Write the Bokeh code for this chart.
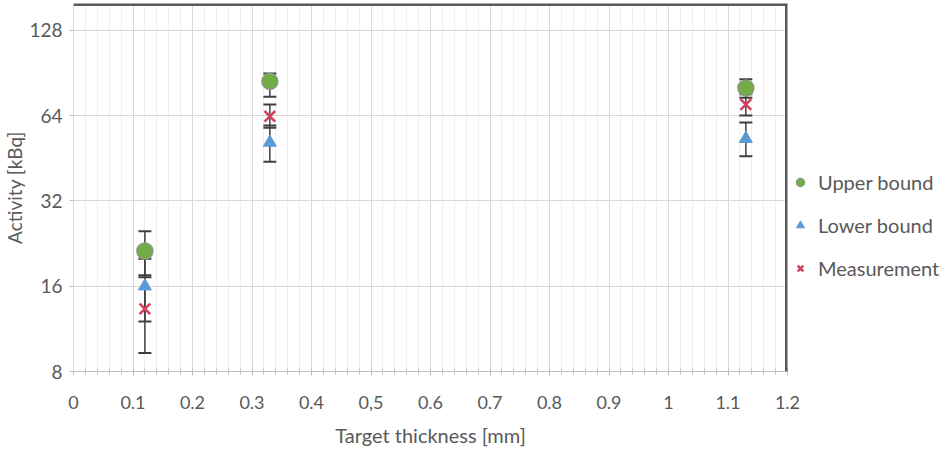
import numpy as np
from bokeh.plotting import figure
from bokeh.models import (ColumnDataSource, Whisker, TeeHead, FixedTicker, Span,
                          Legend, LegendItem, Range1d, NumeralTickFormatter)
from bokeh.embed import file_html
from bokeh.resources import INLINE

# ---- data ----
x_thickness = [0.12, 0.33, 1.13]

upper_bound = [21.3, 84.5, 80.0]
upper_err_lo = [17.5, 74.5, 74.0]
upper_err_hi = [25.0, 90.0, 86.0]

lower_bound = [16.0, 51.4, 53.0]
lower_err_lo = [12.0, 44.0, 46.0]
lower_err_hi = [20.0, 59.0, 60.5]

measurement = [13.3, 63.6, 70.0]
meas_err_lo = [9.3, 58.0, 64.0]
meas_err_hi = [17.2, 70.0, 76.0]

x_ticks = [0, 0.1, 0.2, 0.3, 0.4, 0.5, 0.6, 0.7, 0.8, 0.9, 1.0, 1.1, 1.2]
x_tick_labels = ["0", "0.1", "0.2", "0.3", "0.4", "0,5", "0.6", "0.7", "0.8", "0.9", "1", "1.1", "1.2"]
y_ticks = [8, 16, 32, 64, 128]
x_max = 1.2
y_min, y_max = 8, 159

FONT = "Lato"
TXT = "#595959"

p = figure(frame_width=714, frame_height=368, y_axis_type="log",
           x_range=Range1d(0, x_max), y_range=Range1d(y_min, y_max),
           output_backend="svg", toolbar_location=None,
           min_border_left=60, min_border_right=10, min_border_top=3, min_border_bottom=60,
           outline_line_color=None, background_fill_color="white")

# grids
x_minor = [round(v, 2) for v in np.arange(0, 1.2001, 0.02)]
p.xgrid.ticker = FixedTicker(ticks=x_ticks, minor_ticks=x_minor)
p.xgrid.grid_line_color = "#D9D9D9"
p.xgrid.minor_grid_line_color = "#EFEFEF"
p.ygrid.ticker = FixedTicker(ticks=y_ticks)
p.ygrid.grid_line_color = "#D9D9D9"

# x axis
xa = p.xaxis[0]
xa.ticker = FixedTicker(ticks=x_ticks, minor_ticks=x_minor)
xa.major_label_overrides = {t: l for t, l in zip(x_ticks, x_tick_labels)}
xa.axis_line_color = "#BFBFBF"
xa.major_tick_line_color = "#BFBFBF"
xa.minor_tick_line_color = "#BFBFBF"
xa.major_tick_in = 4
xa.major_tick_out = 4
xa.minor_tick_in = 3
xa.minor_tick_out = 3
xa.major_label_standoff = 20
xa.major_label_text_font = FONT
xa.major_label_text_font_size = "18px"
xa.major_label_text_color = TXT
xa.axis_label = "Target thickness [mm]"
xa.axis_label_text_font = FONT
xa.axis_label_text_font_size = "20px"
xa.axis_label_text_font_style = "normal"
xa.axis_label_text_color = TXT
xa.axis_label_standoff = 11

# y axis
ya = p.yaxis[0]
ya.ticker = FixedTicker(ticks=y_ticks)
ya.formatter = NumeralTickFormatter(format="0")
ya.axis_line_color = "#D9D9D9"
ya.major_tick_line_color = "#BFBFBF"
ya.minor_tick_line_color = None
ya.major_tick_in = 0
ya.major_tick_out = 4
ya.major_label_standoff = 7
ya.major_label_text_font = FONT
ya.major_label_text_font_size = "19px"
ya.major_label_text_color = TXT
ya.axis_label = "Activity [kBq]"
ya.axis_label_text_font = FONT
ya.axis_label_text_font_size = "19px"
ya.axis_label_text_font_style = "normal"
ya.axis_label_text_color = TXT
ya.axis_label_standoff = 0

# dark top and right borders of the plot area
p.add_layout(Span(location=y_max, dimension="width", line_color="#595959", line_width=5))
p.add_layout(Span(location=x_max, dimension="height", line_color="#595959", line_width=5))

src_u = ColumnDataSource(dict(x=x_thickness, y=upper_bound, lo=upper_err_lo, hi=upper_err_hi))
src_l = ColumnDataSource(dict(x=x_thickness, y=lower_bound, lo=lower_err_lo, hi=lower_err_hi))
src_m = ColumnDataSource(dict(x=x_thickness, y=measurement, lo=meas_err_lo, hi=meas_err_hi))

ERR = "#3F3F3F"
for src in (src_u, src_l, src_m):
    w = Whisker(base="x", lower="lo", upper="hi", source=src, line_color=ERR, line_width=1.5,
                upper_head=TeeHead(size=13, line_color=ERR, line_width=2),
                lower_head=TeeHead(size=13, line_color=ERR, line_width=2))
    p.add_layout(w)

r_u = p.scatter("x", "y", source=src_u, marker="circle", size=16,
                fill_color="#70AD47", line_color="#8C9A80", line_width=1.5)
r_m = p.scatter("x", "y", source=src_m, marker="x", size=15,
                line_color="#D2405E", line_width=2.5)
r_l = p.scatter("x", "y", source=src_l, marker="triangle", size=13,
                fill_color="#5B9BD5", line_color="#5B9BD5")

legend = Legend(items=[LegendItem(label="Upper bound", renderers=[r_u]),
                       LegendItem(label="Lower bound", renderers=[r_l]),
                       LegendItem(label="Measurement", renderers=[r_m])],
                location="top_left", padding=0, margin=0, spacing=19,
                title=" ", title_text_font_size="10px", title_standoff=156,
                glyph_width=26, glyph_height=20, label_standoff=5,
                label_text_font=FONT, label_text_font_size="20px", label_text_color=TXT,
                border_line_color=None, background_fill_alpha=0)
p.add_layout(legend, "right")

open("out.html", "w").write(file_html(p, INLINE))
